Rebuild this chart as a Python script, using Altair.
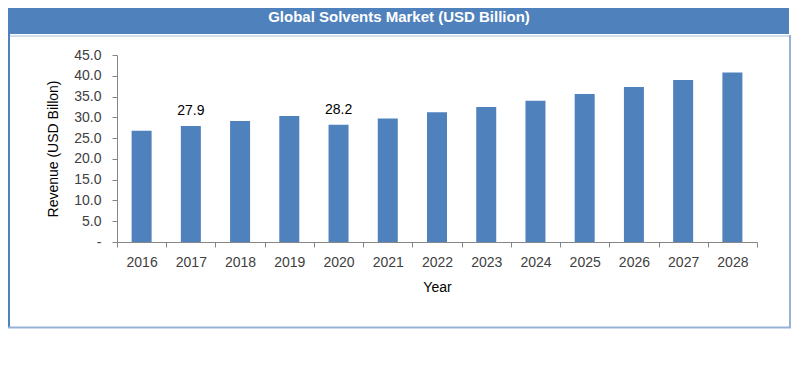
import altair as alt
import pandas as pd

# ---- data ----
years = ["2016", "2017", "2018", "2019", "2020", "2021", "2022",
         "2023", "2024", "2025", "2026", "2027", "2028"]
revenue = [26.8, 27.9, 29.1, 30.3, 28.2, 29.7, 31.2,
           32.5, 34.0, 35.6, 37.3, 39.0, 40.8]
annotated_years = ["2017", "2020"]
y_ticks = [0, 5, 10, 15, 20, 25, 30, 35, 40, 45]

title_text = "Global Solvents Market (USD Billion)"
x_title = "Year"
y_title = "Revenue (USD Billon)"

df = pd.DataFrame({"year": years, "revenue": revenue})

FONT = "Liberation Sans"
AXIS_GREY = "#868686"
LABEL_GREY = "#404040"
BLUE = "#4f81bd"
FRAME = "#95b3d7"

x_enc = alt.X(
    "year:O",
    sort=years,
    scale=alt.Scale(paddingInner=0, paddingOuter=0),
    axis=alt.Axis(
        title=x_title, labelAngle=0, tickBand="extent", tickSize=5,
        labelPadding=8, domainColor=AXIS_GREY, tickColor=AXIS_GREY,
        labelColor=LABEL_GREY, labelFont=FONT, labelFontSize=14,
        titleFont=FONT, titleFontSize=14, titleFontWeight="normal",
        titleColor="#000000", titleY=45, titleBaseline="middle",
    ),
)

y_enc = alt.Y(
    "revenue:Q",
    scale=alt.Scale(domain=[0, 45], nice=False, zero=True),
    axis=alt.Axis(
        values=y_ticks,
        labelExpr="datum.value == 0 ? '-' : format(datum.value, '.1f')",
        title=y_title, titleAngle=270, titleX=-64, titleY=93.5,
        titleAlign="center", titleBaseline="middle",
        titleFont=FONT, titleFontSize=14, titleFontWeight="normal",
        titleColor="#000000", grid=False, tickSize=5, labelPadding=11,
        domainColor=AXIS_GREY, tickColor=AXIS_GREY, labelColor=LABEL_GREY,
        labelFont=FONT, labelFontSize=14,
    ),
)

bars = alt.Chart(df).mark_bar(size=20, color=BLUE).encode(x=x_enc, y=y_enc)

labels = (
    alt.Chart(df)
    .transform_filter(alt.FieldOneOfPredicate(field="year", oneOf=annotated_years))
    .mark_text(dy=-11, baseline="alphabetic", align="center", fontSize=14,
               font=FONT, color="#000000")
    .encode(x=x_enc, y=y_enc, text=alt.Text("revenue:Q", format=".1f"))
)

one = alt.Data(values=[{"k": 0}])

banner = alt.Chart(one).mark_rect(color=BLUE).encode(
    x=alt.value(-109), x2=alt.value(672), y=alt.value(-47), y2=alt.value(-21)
)
under_line = alt.Chart(one).mark_rule(color="#a9bedb", strokeWidth=1).encode(
    x=alt.value(-109), x2=alt.value(674), y=alt.value(-19)
)
left_border = alt.Chart(one).mark_rule(color=BLUE, strokeWidth=2).encode(
    x=alt.value(-108), y=alt.value(-21), y2=alt.value(273)
)
right_border = alt.Chart(one).mark_rule(color=FRAME, strokeWidth=2).encode(
    x=alt.value(673), y=alt.value(-20), y2=alt.value(273)
)
bottom_border = alt.Chart(one).mark_rule(color=FRAME, strokeWidth=2).encode(
    x=alt.value(-109), x2=alt.value(674), y=alt.value(272.5)
)
title_mark = alt.Chart(alt.Data(values=[{"t": title_text}])).mark_text(
    color="#ffffff", fontWeight="bold", fontSize=15, font=FONT,
    align="center", baseline="middle"
).encode(x=alt.value(282), y=alt.value(-38.5), text="t:N")

chart = (
    alt.layer(banner, under_line, left_border, right_border, bottom_border,
              bars, labels, title_mark)
    .properties(
        width=640, height=187,
        autosize=alt.AutoSizeParams(type="none"),
        padding={"left": 109, "top": 47, "right": 35, "bottom": 122},
        background="#ffffff",
    )
    .configure_view(strokeWidth=0)
)

chart.save("out.html", embed_options={"renderer": "svg", "actions": False})
